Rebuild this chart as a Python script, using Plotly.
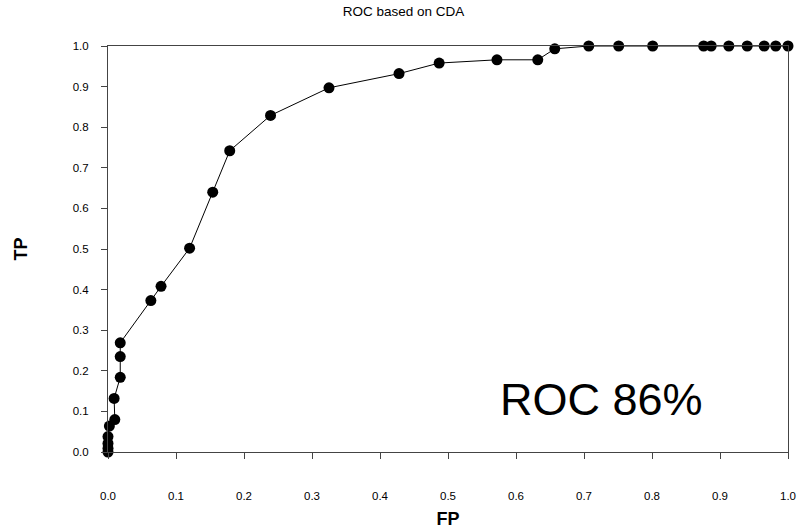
import plotly.graph_objects as go

# False positive rate (x) and true positive rate (y)
fp = [0.0, 0.0, 0.0, 0.0, 0.002, 0.010, 0.009, 0.018, 0.018, 0.018,
      0.063, 0.078, 0.120, 0.154, 0.179, 0.239, 0.325, 0.428, 0.487,
      0.572, 0.632, 0.657, 0.707, 0.751, 0.801, 0.876, 0.887, 0.913,
      0.940, 0.965, 0.982, 1.0]
tp = [0.0, 0.009, 0.021, 0.038, 0.064, 0.080, 0.132, 0.184, 0.235, 0.269,
      0.373, 0.408, 0.502, 0.640, 0.742, 0.829, 0.897, 0.932, 0.958,
      0.966, 0.966, 0.993, 1.0, 1.0, 1.0, 1.0, 1.0, 1.0,
      1.0, 1.0, 1.0, 1.0]

tick_vals = [0.0, 0.1, 0.2, 0.3, 0.4, 0.5, 0.6, 0.7, 0.8, 0.9, 1.0]
tick_text = ["0.0", "0.1", "0.2", "0.3", "0.4", "0.5", "0.6", "0.7", "0.8", "0.9", "1.0"]

title_text = "ROC based on CDA"
x_title = "FP"
y_title = "TP"
note_text = "ROC 86%"

FONT = "Liberation Sans, Arial, sans-serif"

fig = go.Figure()
fig.add_trace(go.Scatter(
    x=fp, y=tp, mode="lines+markers",
    line=dict(color="black", width=1),
    marker=dict(color="black", size=11),
    cliponaxis=False, showlegend=False,
))

axis_common = dict(
    range=[0, 1], showgrid=False, zeroline=False, automargin=False,
    showline=True, linecolor="#444", linewidth=1, mirror=True,
    ticks="outside", ticklen=6, tickcolor="#444",
    tickvals=tick_vals, ticktext=tick_text,
    tickfont=dict(family=FONT, size=11.5, color="black"),
)

fig.update_layout(
    width=807, height=532,
    margin=dict(l=108, r=19, t=46, b=80),
    paper_bgcolor="white", plot_bgcolor="white",
    title=dict(text=title_text, x=0.5, xanchor="center", y=0.988, yanchor="top",
               font=dict(family=FONT, size=13.5, color="black")),
    xaxis=dict(**axis_common, ticklabelstandoff=27,
               title=dict(text="<b>" + x_title + "</b>", standoff=11,
                          font=dict(family=FONT, size=18, color="black"))),
    yaxis=dict(**axis_common, ticklabelstandoff=10,
               title=dict(text="<b>" + y_title + "</b>", standoff=40,
                          font=dict(family=FONT, size=18, color="black"))),
    annotations=[dict(text=note_text, xref="paper", yref="paper",
                      x=0.725, y=0.13, xanchor="center", yanchor="middle",
                      showarrow=False,
                      font=dict(family=FONT, size=45, color="black"))],
)

fig.write_html("out.html", config={"displayModeBar": False},
               post_script="document.body.style.margin='0px';")
